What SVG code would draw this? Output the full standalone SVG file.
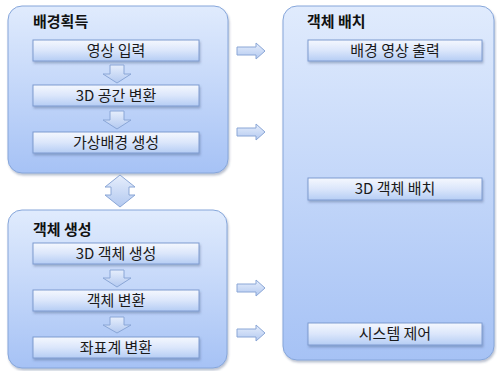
<svg xmlns="http://www.w3.org/2000/svg" width="497" height="371" viewBox="0 0 497 371">
<defs>
<linearGradient id="gc" x1="0" y1="0" x2="0" y2="1">
<stop offset="0" stop-color="#e0ebfd"/>
<stop offset="1" stop-color="#a6c2f5"/>
</linearGradient>
<linearGradient id="gb" x1="0" y1="0" x2="0" y2="1">
<stop offset="0" stop-color="#f5f8fe"/>
<stop offset="0.5" stop-color="#dbe6fb"/>
<stop offset="1" stop-color="#b5cdf4"/>
</linearGradient>
<linearGradient id="ga" x1="0" y1="0" x2="0" y2="1">
<stop offset="0" stop-color="#e6eefc"/>
<stop offset="1" stop-color="#b3c9f0"/>
</linearGradient>
<filter id="sh" x="-10%" y="-10%" width="120%" height="130%">
<feDropShadow dx="1" dy="2" stdDeviation="1.2" flood-color="#3a4f78" flood-opacity="0.35"/>
</filter>
</defs>
<style>
.cont{fill:url(#gc);stroke:#86a6da;stroke-width:1;filter:url(#sh)}
.box{fill:url(#gb);stroke:#7e9bd0;stroke-width:1;filter:url(#sh)}
.arr{fill:url(#ga);stroke:#8aa6d6;stroke-width:1}
.t{font-family:"Noto Sans CJK KR","Malgun Gothic",sans-serif;font-size:15px;fill:#1a1a1a;text-anchor:middle}
.h{font-family:"Noto Sans CJK KR","Malgun Gothic",sans-serif;font-size:15px;font-weight:bold;fill:#111}
</style>
<g id="bg-acquire">
<rect class="cont" x="8" y="6" width="220" height="167" rx="14"/>
<text class="h" x="33" y="27">배경획득</text>
</g>
<g id="n-input">
<rect class="box" x="33" y="40" width="166" height="21"/>
<text class="t" x="116" y="56">영상 입력</text>
</g>
<g id="n-3dspace">
<rect class="box" x="33" y="85" width="166" height="21"/>
<text class="t" x="116" y="101">3D 공간 변환</text>
</g>
<g id="n-virtualbg">
<rect class="box" x="33" y="132" width="166" height="21"/>
<text class="t" x="116" y="148">가상배경 생성</text>
</g>
<g id="obj-create">
<rect class="cont" x="8" y="210" width="219" height="158" rx="14"/>
<text class="h" x="33" y="235">객체 생성</text>
</g>
<g id="n-3dobj">
<rect class="box" x="33" y="243" width="166" height="21"/>
<text class="t" x="116" y="259">3D 객체 생성</text>
</g>
<g id="n-objtrans">
<rect class="box" x="33" y="290" width="166" height="21"/>
<text class="t" x="116" y="306">객체 변환</text>
</g>
<g id="n-coord">
<rect class="box" x="33" y="337" width="166" height="21"/>
<text class="t" x="116" y="353">좌표계 변환</text>
</g>
<g id="obj-place">
<rect class="cont" x="283" y="6" width="211" height="354" rx="14"/>
<text class="h" x="307" y="27">객체 배치</text>
</g>
<g id="n-bgout">
<rect class="box" x="308" y="40" width="174" height="21"/>
<text class="t" x="395" y="56">배경 영상 출력</text>
</g>
<g id="n-3dplace">
<rect class="box" x="308" y="178" width="174" height="22"/>
<text class="t" x="395" y="194">3D 객체 배치</text>
</g>
<g id="n-sys">
<rect class="box" x="308" y="323" width="174" height="22"/>
<text class="t" x="395" y="339">시스템 제어</text>
</g>
<g id="connectors">
<path class="arr" d="M110,65 H124 V74 H131 L117,83 L103,74 H110 Z"/>
<path class="arr" d="M110,111 H124 V120 H131 L117,129 L103,120 H110 Z"/>
<path class="arr" d="M110,270 H124 V278 H131 L117,287 L103,278 H110 Z"/>
<path class="arr" d="M110,317 H124 V325 H131 L117,333 L103,325 H110 Z"/>
<path class="arr" d="M120,175 L135,187 H129 V195 H135 L120,207 L105,195 H111 V187 H105 Z"/>
<path class="arr" d="M237,47 H256 V43 L265,51 L256,59 V55 H237 Z"/>
<path class="arr" d="M237,128 H256 V124 L265,132 L256,140 V136 H237 Z"/>
<path class="arr" d="M237,284 H256 V280 L265,288 L256,296 V292 H237 Z"/>
<path class="arr" d="M237,329 H256 V325 L265,333 L256,341 V337 H237 Z"/>
</g>
</svg>
